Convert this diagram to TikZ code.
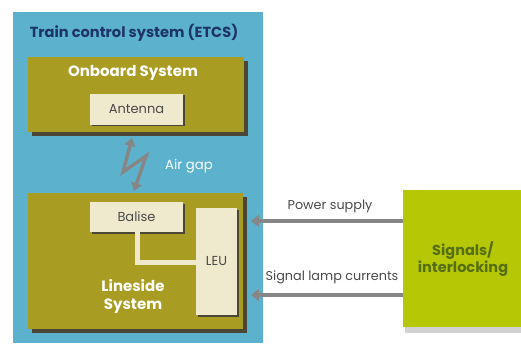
\documentclass[tikz,border=0pt]{standalone}
\usepackage{fontspec}
\setmainfont{Poppins}
\usetikzlibrary{arrows.meta,shadows}

\definecolor{etcsblue}{HTML}{5CB2CC}
\definecolor{olive}{HTML}{A99C22}
\definecolor{olivedark}{HTML}{4B4636}
\definecolor{cream}{HTML}{EFE9CD}
\definecolor{arrgray}{HTML}{868686}
\definecolor{lime}{HTML}{B6C805}
\definecolor{navy}{HTML}{1E3468}
\definecolor{darkgreen}{HTML}{566F12}
\definecolor{txtgray}{HTML}{4A4A4A}

\begin{document}
\begin{tikzpicture}[
    x=1pt, y=-1pt,
    every node/.style={inner sep=0pt, outer sep=0pt},
    % Outer system frame
    frame/.style={rectangle, fill=etcsblue},
    % Subsystem boxes: olive with dark shadow
    subsys/.style={rectangle, fill=olive,
        drop shadow={shadow xshift=4pt, shadow yshift=-4pt, fill=olivedark, opacity=1}},
    % Components: cream boxes
    comp/.style={rectangle, fill=cream, font=\fontsize{13}{15}\selectfont, text=txtgray,
        drop shadow={shadow xshift=1.5pt, shadow yshift=-1.5pt, fill=olivedark, opacity=1}},
    % External system box
    ext/.style={rectangle, fill=lime,
        drop shadow={shadow xshift=2pt, shadow yshift=-6pt, fill=black!30, opacity=0.6}},
    % Headings
    head/.style={font=\bfseries\fontsize{15}{18}\selectfont, text=white, align=center},
    % Arrow label
    lbl/.style={font=\fontsize{12.8}{15}\selectfont, text=txtgray},
    % Thick gray arrows
    arr/.style={-{Triangle[width=12pt,length=8pt]}, line width=4pt, draw=arrgray},
    bolt/.style={{Triangle[width=11pt,length=8pt]}-{Triangle[width=11pt,length=8pt]},
        line width=3.5pt, draw=arrgray, line join=miter},
]
\useasboundingbox (0,0) rectangle (521,347);

% ============================================================
% Train control system frame
% ============================================================
\node[frame, minimum width=250pt, minimum height=331pt] (etcs) at (138,177.5) {};
\node[font=\bfseries\fontsize{14.6}{17}\selectfont, text=navy] (title) at (134,33) {Train control system (ETCS)};

% Onboard system
\node[subsys, minimum width=216pt, minimum height=75pt] (onboard) at (136,94.5) {};
\node[head] (onboardlbl) at (133,73) {Onboard System};
\node[comp, minimum width=93pt, minimum height=31pt] (antenna) at (136.5,109.5) {Antenna};

% Air gap
\coordinate (bolttop) at (132,138);
\coordinate (boltbot) at (134,191);
\draw[bolt] (bolttop) -- (123,172) -- (146,156) -- (boltbot);
\node[font=\fontsize{13.3}{15}\selectfont, text=white] (airgap) at (189,166) {Air gap};

% Lineside system
\node[subsys, minimum width=215pt, minimum height=136pt] (lineside) at (135.5,261) {};
\node[comp, minimum width=93pt, minimum height=30pt] (balise) at (136.5,217) {Balise};
\node[comp, minimum width=41pt, minimum height=107pt] (leu) at (216.5,261.5) {LEU};
\draw[cream, line width=5pt] (balise.south -| 137,0) |- (leu.west |- 0,262);
\node[head] (linesidelbl) at (133,296) {Lineside\\System};

% ============================================================
% Signals / interlocking
% ============================================================
\node[ext, minimum width=118pt, minimum height=137pt] (signals) at (462,258.5) {};
\node[font=\bfseries\fontsize{14.5}{15}\selectfont, text=darkgreen, align=center] (signalslbl)
    at (463,259) {Signals/\\interlocking};

% Arrows to lineside
\coordinate (pwend) at (251,221);
\coordinate (slend) at (251,295);
\draw[arr] (signals.west |- pwend) -- (pwend);
\draw[arr] (signals.west |- slend) -- (slend);
\node[lbl] (pwlbl) at (330,206) {Power supply};
\node[lbl] (sllbl) at (332,277) {Signal lamp currents};

\end{tikzpicture}
\end{document}
